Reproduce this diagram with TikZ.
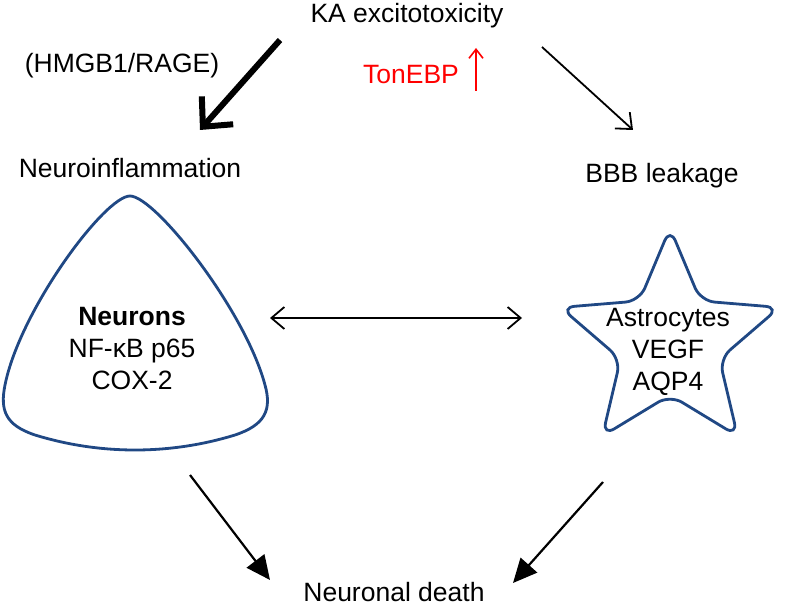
\documentclass[tikz,border=0pt]{standalone}
\usepackage{fontspec}
\setmainfont{Liberation Sans}
\usetikzlibrary{arrows.meta}
\definecolor{cellblue}{RGB}{32,72,132}
\begin{document}
\begin{tikzpicture}[x=1pt,y=-1pt,font=\fontsize{26.5}{32}\selectfont,
    cell/.style={draw=cellblue,line width=2.8pt},
    heavyarrow/.style={line width=6pt,-{Straight Barb[length=22pt,width=42pt]}},
    leadarrow/.style={line width=1.8pt,-{Straight Barb[length=13pt,width=22pt]}},
    linkarrow/.style={line width=1.8pt,{Straight Barb[length=13pt,width=22pt]}-{Straight Barb[length=13pt,width=22pt]}},
    deatharrow/.style={line width=2.2pt,-{Triangle[length=24pt,width=22pt]}}]
    \useasboundingbox (0,0) rectangle (785,609);
    % texts
    \node (ka) at (407,16) {KA excitotoxicity};
    \node (hmgb) at (122,66) {(HMGB1/RAGE)};
    \node[text=red] (ton) at (411,75) {TonEBP};
    \node (infl) at (130,168) {Neuroinflammation};
    \node (bbb) at (662,176) {BBB leakage};
    \node[align=center] (neur) at (132,349) {\textbf{Neurons}\\NF-κB p65\\COX-2};
    \node[align=center] (astro) at (668,352) {Astrocytes\\VEGF\\AQP4};
    \node (death) at (394,592) {Neuronal death};

    % arrow ends
    \coordinate (kaL) at (280,40);
    \coordinate (inflT) at (200,130);
    \coordinate (kaR) at (542,47);
    \coordinate (bbbT) at (633,130);
    \coordinate (tonB) at (476,91);
    \coordinate (tonT) at (476,48);
    \coordinate (neurR) at (270,318);
    \coordinate (astroL) at (522,318);
    \coordinate (neurB) at (190,475);
    \coordinate (deathL) at (270,580);
    \coordinate (astroB) at (603,482);
    \coordinate (deathR) at (513,583);

    % neurons
    \draw[cell] (130,196) .. controls (105,196) and (20,310) .. (5,385)
        .. controls (0,410) and (5,425) .. (35,435)
        .. controls (100,455) and (170,455) .. (235,435)
        .. controls (265,425) and (272,410) .. (265,385)
        .. controls (245,310) and (155,196) .. cycle;

    % astrocytes
    \begin{scope}[shift={(670,343)}]
        \draw[cell,rounded corners=14pt] (-90:115) -- (-54:52) -- (-18:115) -- (18:52) -- (54:115)
            -- (90:52) -- (126:115) -- (162:52) -- (198:115) -- (234:52) -- cycle;
    \end{scope}

    \draw[heavyarrow] (kaL) -- (inflT);
    \draw[leadarrow] (kaR) -- (bbbT);
    \draw[red,line width=1.6pt,-{Straight Barb[length=9pt,width=14pt]}] (tonB) -- (tonT);
    \draw[linkarrow] (neurR) -- (astroL);
    \draw[deatharrow] (neurB) -- (deathL);
    \draw[deatharrow] (astroB) -- (deathR);
\end{tikzpicture}
\end{document}
